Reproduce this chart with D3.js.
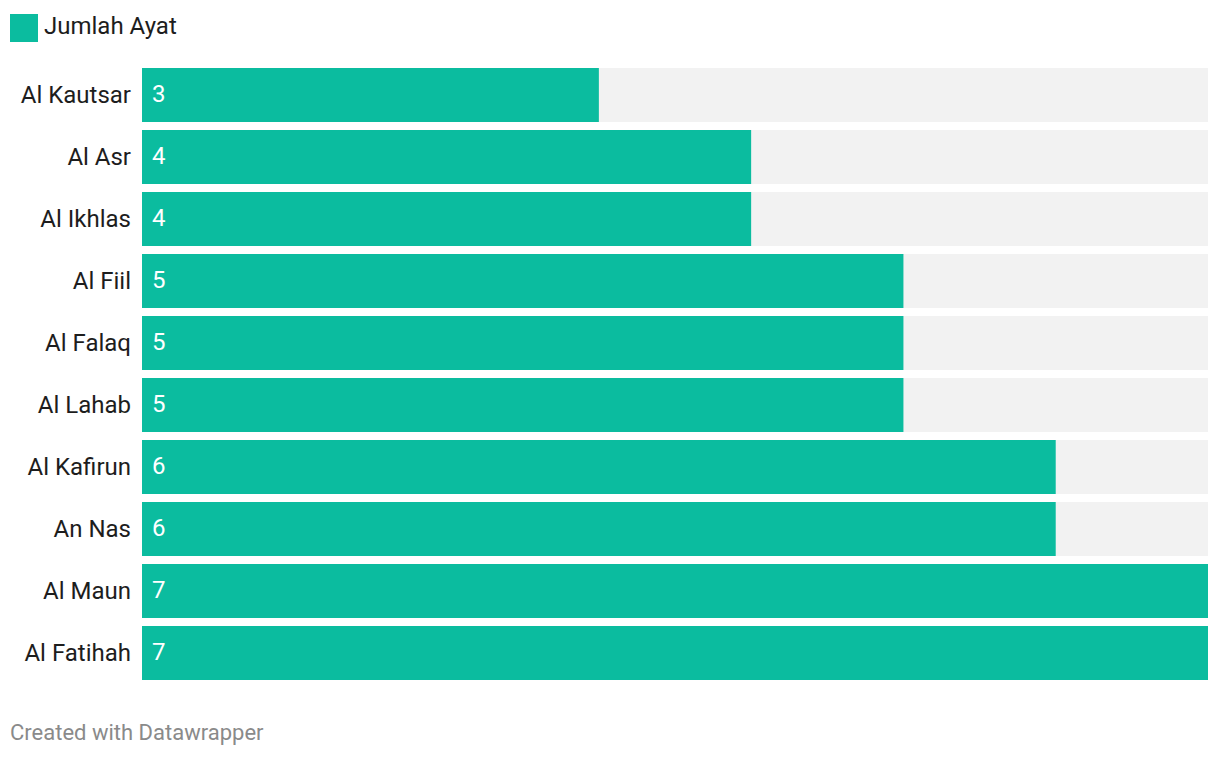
<!DOCTYPE html>
<html>
<head>
<meta charset="utf-8">
<script src="https://cdn.jsdelivr.net/npm/d3@7"></script>
<style>
  html, body { margin: 0; padding: 0; background: #fff; }
  svg { display: block; font-family: Roboto, "Noto Sans", sans-serif; }
</style>
</head>
<body>
<svg id="chart" width="1220" height="758"></svg>
<script>
const categories = ["Al Kautsar", "Al Asr", "Al Ikhlas", "Al Fiil", "Al Falaq", "Al Lahab", "Al Kafirun", "An Nas", "Al Maun", "Al Fatihah"];
const values = [3, 4, 4, 5, 5, 5, 6, 6, 7, 7];
const seriesName = "Jumlah Ayat";
const footerText = "Created with Datawrapper";

const W = 1220, H = 758;
const margin = { left: 142, right: 12, top: 68 };
const barColor = "#0bbc9f";
const bgColor = "#f2f2f2";

const svg = d3.select("#chart");

const x = d3.scaleLinear()
  .domain([0, d3.max(values)])
  .range([margin.left, W - margin.right]);

const y = d3.scaleBand()
  .domain(categories)
  .range([margin.top, margin.top + 62 * categories.length - 8])
  .paddingInner(8 / 62)
  .paddingOuter(0);

// legend
const legend = svg.append("g");
legend.append("rect").attr("x", 10).attr("y", 14).attr("width", 28).attr("height", 28).attr("fill", barColor);
legend.append("text").attr("x", 44).attr("y", 34).attr("font-size", 24).attr("fill", "#1d1d1d").text(seriesName);

const rows = svg.append("g").selectAll("g").data(categories).join("g");

rows.append("rect")
  .attr("x", x(0))
  .attr("y", d => y(d))
  .attr("width", x(d3.max(values)) - x(0))
  .attr("height", y.bandwidth())
  .attr("fill", bgColor);

rows.append("rect")
  .attr("x", x(0))
  .attr("y", d => y(d))
  .attr("width", (d, i) => x(values[i]) - x(0))
  .attr("height", y.bandwidth())
  .attr("fill", barColor);

rows.append("text")
  .attr("x", x(0) - 11)
  .attr("y", d => y(d) + y.bandwidth() / 2)
  .attr("dy", "0.35em")
  .attr("text-anchor", "end")
  .attr("font-size", 24)
  .attr("fill", "#1d1d1d")
  .text(d => d);

rows.append("text")
  .attr("x", x(0) + 10)
  .attr("y", d => y(d) + y.bandwidth() / 2)
  .attr("dy", "0.3em")
  .attr("font-size", 24)
  .attr("fill", "#ffffff")
  .text((d, i) => values[i]);

svg.append("text")
  .attr("x", 10)
  .attr("y", 740)
  .attr("font-size", 22)
  .attr("fill", "#8a8a8a")
  .text(footerText);
</script>
</body>
</html>
